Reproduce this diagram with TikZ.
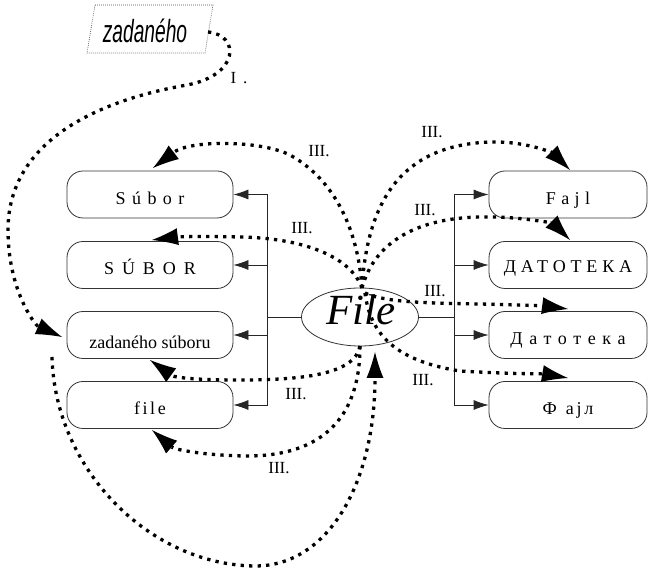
\documentclass[tikz,border=0pt]{standalone}
\usepackage{fontspec}
\usepackage{graphicx}
\setmainfont{Liberation Serif}
\newfontfamily\sansnar{Liberation Sans}
\usetikzlibrary{arrows.meta,shapes.geometric}
\newcommand{\lsp}[2]{{\addfontfeature{LetterSpace=#1}#2}}
\tikzset{
  box/.style={draw=black!80, line width=0.8pt, rounded corners=16pt, minimum width=166pt, minimum height=47pt, inner sep=0pt, text height=20pt, text depth=0pt, font=\fontsize{18}{20}\selectfont},
  rbox/.style={box, minimum width=158pt},
  conn/.style={draw=black!85, line width=0.8pt, -{Latex[length=15pt,width=10pt]}},
  dots/.style={line width=3.3pt, dash pattern=on 3.3pt off 5.2pt, -{Latex[length=26pt,width=17pt,line width=0pt]}},
  lab/.style={font=\fontsize{17}{18}\selectfont, inner sep=0pt},
}
\begin{document}
\begin{tikzpicture}[x=1pt,y=-1pt]
\useasboundingbox (0,0) rectangle (649,569);
% top parallelogram
\draw[black!70, line width=0.6pt, dash pattern=on 0.8pt off 1.2pt] (95,5) -- (213,5) -- (205,53) -- (87,53) -- cycle;
\node[anchor=base, inner sep=0pt] (zad) at (145,43) {\scalebox{0.6}[1]{\sansnar\itshape\fontsize{32}{33}\selectfont zadaného}};
% left boxes
\node[box] (s1) at (150,194.5) {\lsp{36}{Súbor}};
\node[box] (s2) at (150,265) {\lsp{44}{SÚBOR}};
\node[box, text height=28pt] (s3) at (150,335) {zadaného súboru};
\node[box] (s4) at (150,405) {\lsp{14}{file}};
% right boxes
\node[rbox] (r1) at (568,194.5) {\lsp{30}{Fajl}};
\node[rbox, text height=16pt] (r2) at (568,265) {\lsp{27}{ДАТОТЕКА}};
\node[rbox] (r3) at (568,335) {\lsp{37}{Датотека}};
\node[rbox] (r4) at (568,405) {\lsp{15}{Ф\hspace{9pt}ајл}};
% centre ellipse
\node[ellipse, draw=black!80, line width=0.8pt, minimum width=117pt, minimum height=58pt, inner sep=0pt] (F) at (360,317) {};
\node[anchor=base, inner sep=0pt, font=\fontsize{43}{44}\selectfont\itshape] (Ft) at (361,325) {File};
% tree connectors
\coordinate (LB) at (267,317);
\coordinate (RB) at (454,317);
\draw[draw=black!85, line width=0.8pt] (F.west) -- (LB);
\draw[draw=black!85, line width=0.8pt] (F.east) -- (RB);
\foreach \n in {s1,s2,s3,s4} \draw[conn] (LB) |- (\n.east);
\foreach \n in {r1,r2,r3,r4} \draw[conn] (RB) |- (\n.west);
% coordinates for dotted curves
\coordinate (ftop) at (362,288);
\coordinate (fmid) at (365,293);
\coordinate (fbot) at (360,346);
\coordinate (fbot2) at (375,352);
\coordinate (zs) at (208,32);
\coordinate (t1) at (62,337);
\coordinate (b0) at (52,357);
\coordinate (t2) at (153,168);
\coordinate (t3) at (152,240);
\coordinate (t4) at (150,360);
\coordinate (t5) at (152,430);
\coordinate (t6) at (570,170);
\coordinate (t7) at (570,240);
\coordinate (t8) at (568,309);
\coordinate (t9) at (568,378);
% dotted curves
\draw[dots] (zs) .. controls (240,35) and (240,75) .. (187,85) .. controls (100,100) and (8,140) .. (8,230) .. controls (8,290) and (35,325) .. (t1);
\draw[dots] (b0) .. controls (55,470) and (150,565) .. (255,566) .. controls (330,566) and (375,480) .. (fbot2);
\draw[dots] (ftop) .. controls (358,230) and (335,180) .. (290,155) .. controls (260,140) and (190,140) .. (t2);
\draw[dots] (ftop) .. controls (350,255) and (300,238) .. (240,237) .. controls (200,236) and (175,237) .. (t3);
\draw[dots] (fbot) .. controls (355,375) and (300,380) .. (240,380) .. controls (200,380) and (175,378) .. (t4);
\draw[dots] (fbot) .. controls (360,420) and (320,455) .. (250,456) .. controls (210,456) and (175,450) .. (t5);
\draw[dots] (ftop) .. controls (368,190) and (410,145) .. (490,142) .. controls (530,141) and (555,155) .. (t6);
\draw[dots] (ftop) .. controls (375,240) and (420,218) .. (480,217) .. controls (525,216) and (555,225) .. (t7);
\draw[dots] (fmid) .. controls (385,302) and (420,303) .. (480,304) .. controls (520,305) and (545,306) .. (t8);
\draw[dots] (fmid) .. controls (370,330) and (390,360) .. (460,371) .. controls (510,374) and (545,374) .. (t9);
% labels
\node[lab] (l0) at (239,78) {\lsp{40}{I.}};
\node[lab] (l1) at (319,151) {III.};
\node[lab] (l2) at (302,228) {III.};
\node[lab] (l3) at (296,394) {III.};
\node[lab] (l4) at (279,468) {III.};
\node[lab] (l5) at (432,132) {III.};
\node[lab] (l6) at (425,210) {III.};
\node[lab] (l7) at (435,291) {III.};
\node[lab] (l8) at (423,380) {III.};
\end{tikzpicture}
\end{document}
